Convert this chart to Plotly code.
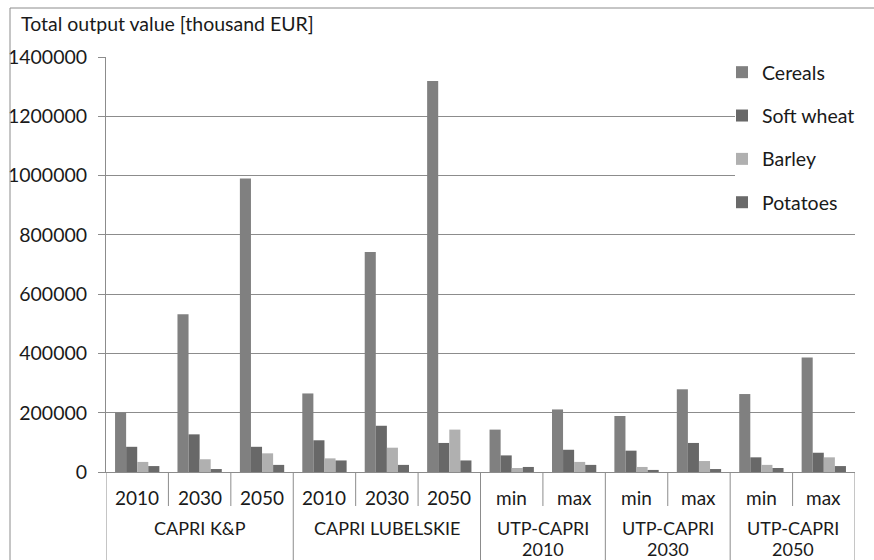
import plotly.graph_objects as go

groups = ["CAPRI K&P", "CAPRI LUBELSKIE", "UTP-CAPRI<br>2010", "UTP-CAPRI<br>2030", "UTP-CAPRI<br>2050"]
group_sizes = [3, 3, 2, 2, 2]
subcats = ["2010", "2030", "2050", "2010", "2030", "2050", "min", "max", "min", "max", "min", "max"]

cereals = [201000, 532000, 990000, 265000, 742000, 1319000, 143000, 211000, 189000, 279000, 263000, 386000]
soft_wheat = [85000, 127000, 85000, 107000, 156000, 98000, 56000, 75000, 72000, 98000, 49500, 65000]
barley = [34000, 43000, 63000, 46000, 82000, 143000, 13500, 34000, 17000, 37000, 24000, 49500]
potatoes = [20000, 10000, 24000, 39000, 24000, 39000, 17000, 24000, 7000, 10000, 13500, 20000]

series = [("Cereals", cereals, "#808080"),
          ("Soft wheat", soft_wheat, "#686868"),
          ("Barley", barley, "#b0b0b0"),
          ("Potatoes", potatoes, "#6a6a6a")]

gi = []
for g, n in zip(groups, group_sizes):
    for _ in range(n):
        gi.append(g)
keys = [f"{g}|{s}|{i}" for i, (g, s) in enumerate(zip(gi, subcats))]

FONT = "Lato"
GRID = "#8c8c8c"
TXT = "#1a1a1a"

fig = go.Figure()
for i, (name, vals, col) in enumerate(series):
    fig.add_trace(go.Bar(x=keys, y=vals, name=name, marker=dict(color=col, line=dict(width=0)),
                         legendgroup=f"g{i}"))

W, H = 874, 560
L, R, T, B = 106, 874 - 855, 57, 560 - 472
pw = W - L - R
ph = H - T - B

def px_x(p):
    return (p - L) / pw

def px_y(p):
    return (H - B - p) / ph

shapes = []
# white area behind the legend (covers gridlines)
shapes.append(dict(type="rect", xref="paper", yref="paper", x0=px_x(735), x1=1.01, y0=px_y(215), y1=1.002,
                   fillcolor="white", line=dict(width=0), layer="above"))
pos = 0
bounds = [0]
for n in group_sizes:
    pos += n
    bounds.append(pos)
for i in range(1, 12):
    xv = i - 0.5
    y1 = px_y(575) if i in bounds else px_y(506)
    shapes.append(dict(type="line", xref="x", yref="paper", x0=xv, x1=xv, y0=0, y1=y1,
                       line=dict(color=GRID, width=1)))
for xv in [-0.5, 11.5]:
    shapes.append(dict(type="line", xref="x", yref="paper", x0=xv, x1=xv, y0=0, y1=px_y(575),
                       line=dict(color=GRID, width=1)))
shapes.append(dict(type="line", xref="paper", yref="paper", x0=px_x(10), x1=px_x(880),
                   y0=px_y(8), y1=px_y(8), line=dict(color=GRID, width=1)))
shapes.append(dict(type="line", xref="paper", yref="paper", x0=px_x(10), x1=px_x(10),
                   y0=px_y(8), y1=px_y(575), line=dict(color=GRID, width=1)))

annotations = []
for i, s in enumerate(subcats):
    annotations.append(dict(x=i, y=px_y(497), xref="x", yref="paper", text=s, showarrow=False,
                            font=dict(family=FONT, size=19, color=TXT),
                            xanchor="center", yanchor="middle"))
start = 0
for g, n in zip(groups, group_sizes):
    c = start + (n - 1) / 2
    for k, line in enumerate(g.split("<br>")):
        annotations.append(dict(x=c, y=px_y(528 + 21 * k), xref="x", yref="paper", text=line,
                                showarrow=False, font=dict(family=FONT, size=18, color=TXT),
                                xanchor="center", yanchor="middle", borderpad=0))
    start += n
annotations.append(dict(x=px_x(19), y=px_y(24), xref="paper", yref="paper",
                        text="Total output value [thousand EUR]", showarrow=False,
                        font=dict(family=FONT, size=19.5, color=TXT),
                        xanchor="left", yanchor="middle"))

fig.update_layout(
    width=W, height=H,
    margin=dict(l=L, r=R, t=T, b=B, pad=0, autoexpand=False),
    paper_bgcolor="white", plot_bgcolor="white",
    barmode="group", bargap=0.29, bargroupgap=0,
    font=dict(family=FONT, size=19, color=TXT),
    xaxis=dict(showticklabels=False, ticks="", showgrid=False, showline=True,
               linecolor=GRID, linewidth=1, range=[-0.5, 11.5], fixedrange=True),
    yaxis=dict(range=[0, 1400000], dtick=200000, tickformat="d", showgrid=True,
               gridcolor=GRID, gridwidth=1, showline=True, linecolor=GRID, linewidth=1,
               ticks="outside", ticklen=7, tickcolor=GRID, zeroline=False,
               ticklabelstandoff=7,
               tickfont=dict(family=FONT, size=19.5, color=TXT)),
    legend=dict(x=px_x(722), y=px_y(53), xanchor="left", yanchor="top",
                bgcolor="rgba(0,0,0,0)", borderwidth=0, traceorder="grouped", tracegroupgap=15,
                font=dict(family=FONT, size=19.5, color=TXT),
                itemclick=False, itemdoubleclick=False),
    shapes=shapes, annotations=annotations, showlegend=True,
)

fig.write_html("out.html", config={"displayModeBar": False},
               post_script="document.body.style.margin='0';document.body.style.padding='0';")
